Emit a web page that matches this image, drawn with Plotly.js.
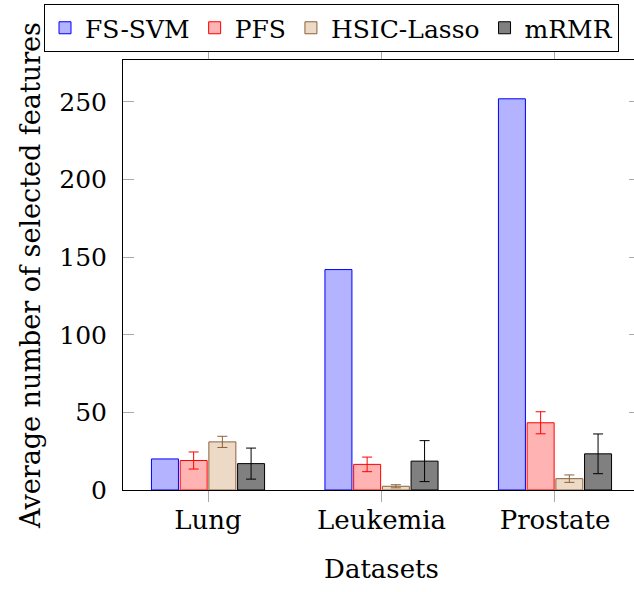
<!DOCTYPE html>
<html>
<head>
<meta charset="utf-8">
<script src="https://cdn.plot.ly/plotly-3.0.1.min.js"></script>
<style>
html, body { margin: 0; padding: 0; overflow: hidden; background: #fff; }
#chart { width: 800px; height: 592px; }
</style>
</head>
<body>
<div id="chart"></div>
<script>
const categories = ["Lung", "Leukemia", "Prostate"];
const seriesNames = ["FS-SVM", "PFS", "HSIC-Lasso", "mRMR"];
const fsSvm = [20, 142, 252];
const pfs = [19, 16.5, 43.3];
const pfsErr = [5.5, 4.7, 7.1];
const hsic = [31, 2.4, 7.3];
const hsicErr = [3.6, 1.0, 2.4];
const mrmr = [17, 18.6, 23.3];
const mrmrErr = [10, 13.2, 12.8];
const yTicks = [0, 50, 100, 150, 200, 250];

const FONT = "DejaVu Serif";

function barTrace(name, y, err, fill, line) {
  const t = {
    type: "bar",
    name: name,
    x: categories,
    y: y,
    marker: { color: fill, line: { color: line, width: 1 } },
  };
  if (err) {
    t.error_y = { type: "data", array: err, visible: true, color: line, thickness: 1, width: 5 };
  }
  return t;
}

const data = [
  barTrace(seriesNames[0], fsSvm, null, "#b3b3ff", "#0000ff"),
  barTrace(seriesNames[1], pfs, pfsErr, "#ffb3b3", "#ff0000"),
  barTrace(seriesNames[2], hsic, hsicErr, "#ecd9c6", "#8c6239"),
  barTrace(seriesNames[3], mrmr, mrmrErr, "#808080", "#000000"),
];

const W = 800;
const PW = 517, PH = 430;
const layout = {
  width: W,
  height: 592,
  margin: { l: 123, r: W - 640, t: 60, b: 102, autoexpand: false },
  paper_bgcolor: "#ffffff",
  plot_bgcolor: "#ffffff",
  font: { family: FONT, size: 26, color: "#000" },
  barmode: "group",
  bargap: 0.338,
  bargroupgap: 0.06,
  showlegend: true,
  legend: {
    orientation: "h",
    xref: "paper", yref: "paper",
    x: (44 - 123) / PW, y: 1 + (60 - 4) / PH,
    xanchor: "left", yanchor: "top",
    bordercolor: "#000", borderwidth: 1,
    bgcolor: "#fff",
    font: { family: FONT, size: 25, color: "#000" },
    itemclick: false,
  },
  xaxis: {
    type: "category",
    range: [-0.49, 2.49],
    showline: true, linecolor: "#000", linewidth: 1, mirror: "ticks",
    ticks: "outside", ticklen: 11, tickcolor: "#aaaaaa", tickwidth: 1,
    ticklabelstandoff: -4,
    showgrid: false, zeroline: false,
    tickfont: { family: FONT, size: 26 },
    title: { text: "Datasets", font: { family: FONT, size: 26 }, standoff: 25 },
  },
  yaxis: {
    range: [0, 277],
    tickvals: yTicks,
    ticktext: yTicks.map(String),
    showline: true, linecolor: "#000", linewidth: 1, mirror: "ticks",
    ticks: "inside", ticklen: 11, tickcolor: "#aaaaaa", tickwidth: 1,
    ticklabelstandoff: 10,
    showgrid: false, zeroline: false,
    tickfont: { family: FONT, size: 25 },
    title: { text: "Average number of selected features", font: { family: FONT, size: 27 }, standoff: 10 },
  },
};

Plotly.newPlot("chart", data, layout, { displayModeBar: false, staticPlot: true });
</script>
</body>
</html>
